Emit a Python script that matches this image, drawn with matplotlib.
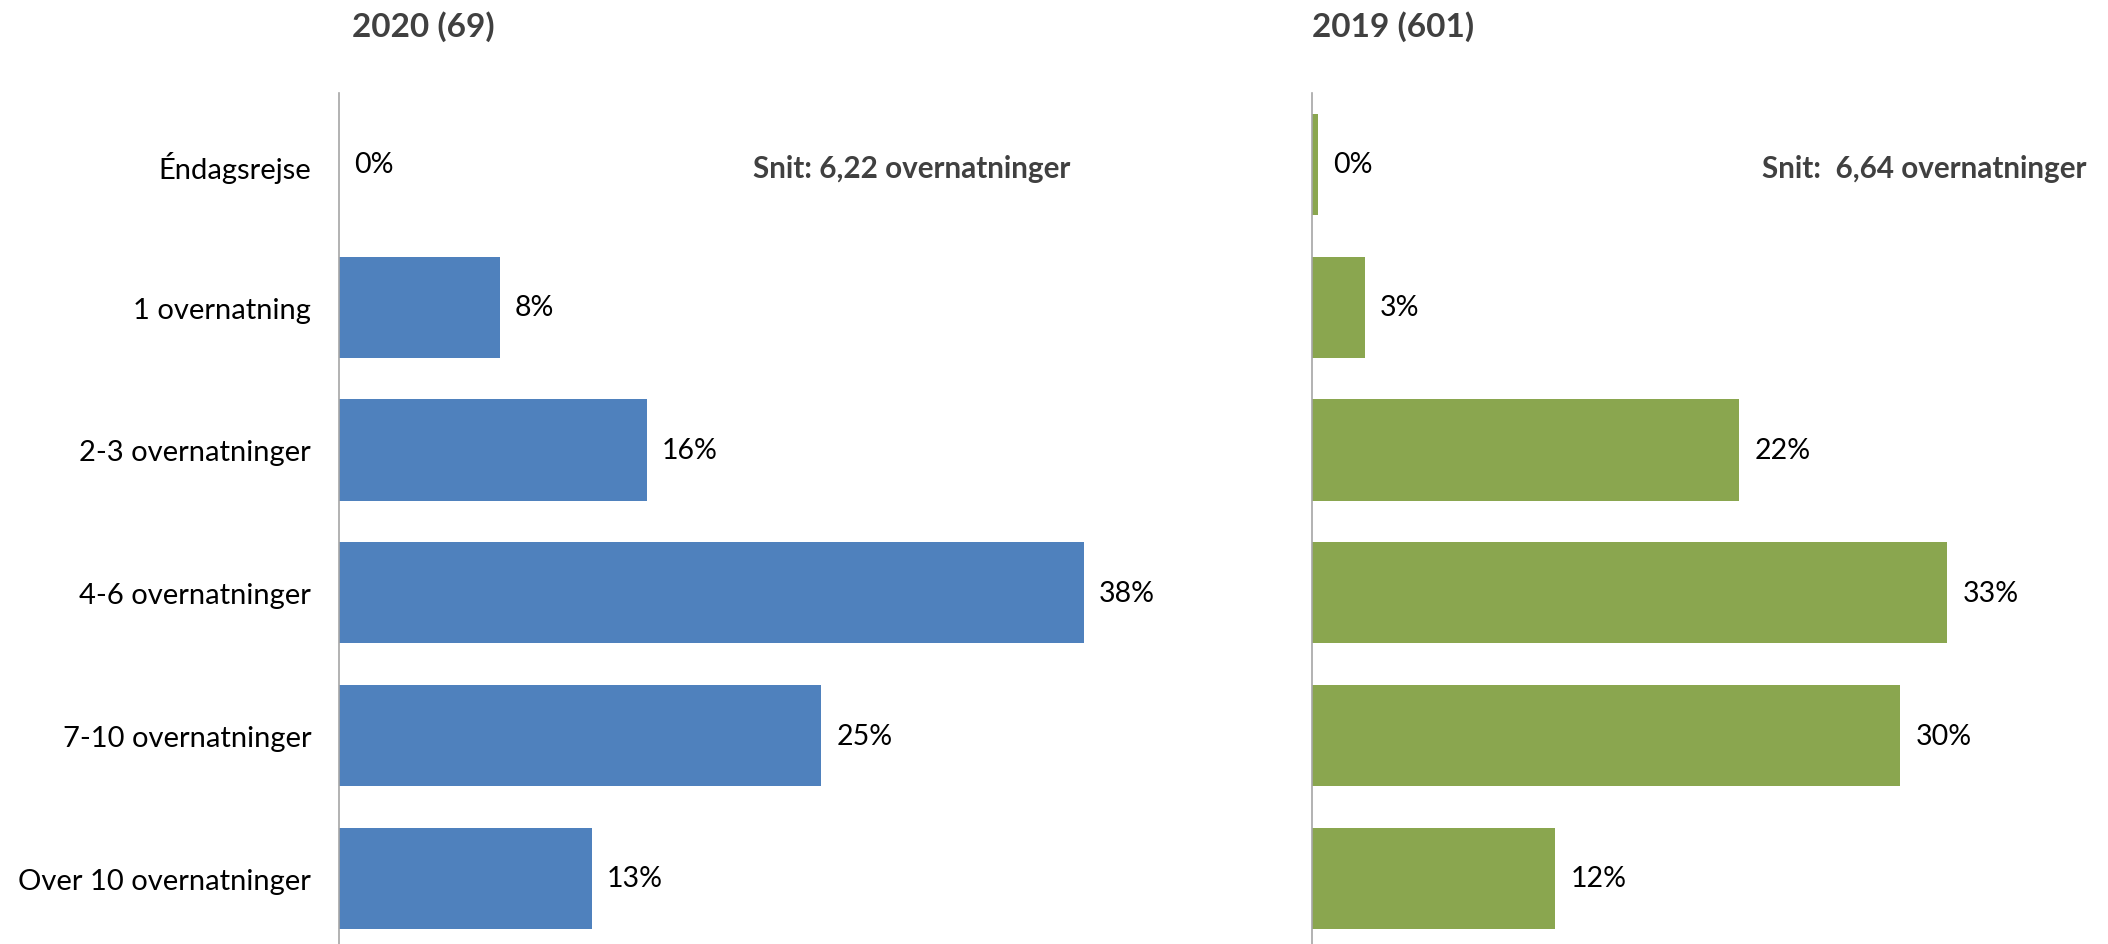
import matplotlib
matplotlib.use("Agg")
import matplotlib.pyplot as plt

categories = ["Éndagsrejse", "1 overnatning", "2-3 overnatninger", "4-6 overnatninger",
              "7-10 overnatninger", "Over 10 overnatninger"]
vals_2020 = [0.0, 8.2, 15.7, 38.0, 24.6, 12.9]
vals_2019 = [0.3, 2.7, 21.8, 32.4, 30.0, 12.4]
labels_2020 = ["0%", "8%", "16%", "38%", "25%", "13%"]
labels_2019 = ["0%", "3%", "22%", "33%", "30%", "12%"]
title_2020 = "2020 (69)"
title_2019 = "2019 (601)"
snit_2020 = "Snit: 6,22 overnatninger"
snit_2019 = "Snit:  6,64 overnatninger"

plt.rcParams['font.family'] = ['Lato', 'DejaVu Sans']

fig = plt.figure(figsize=(21.08, 9.45), dpi=100)
ax1 = fig.add_axes([0.1608, -0.006, 0.372, 0.9065])
ax2 = fig.add_axes([0.6224, -0.006, 0.372, 0.9065])

ypos = list(range(len(categories)))
for ax, vals, labs, col in [(ax1, vals_2020, labels_2020, "#4F81BD"),
                            (ax2, vals_2019, labels_2019, "#8AA64F")]:
    ax.barh(ypos, vals, height=0.71, color=col)
    for y, v, l in zip(ypos, vals, labs):
        ax.annotate(l, (v, y), xytext=(11, 0), textcoords="offset points",
                    va="center", ha="left", fontsize=20.5, color="black")
    ax.set_xlim(0, 40)
    ax.set_ylim(5.5, -0.5)
    for s in ["top", "right", "bottom"]:
        ax.spines[s].set_visible(False)
    ax.spines["left"].set_color("#A6A6A6")
    ax.spines["left"].set_linewidth(1.2)
    ax.set_xticks([])

ax1.set_yticks(ypos)
ax1.set_yticklabels(categories, fontsize=21)
ax1.tick_params(axis="y", length=0, pad=20)
ax2.set_yticks([])

fig.text(0.167, 0.972, title_2020, fontsize=24, fontweight="bold", color="#404040", va="center")
fig.text(0.6224, 0.972, title_2019, fontsize=24, fontweight="bold", color="#404040", va="center")
fig.text(0.508, 0.821, snit_2020, fontsize=21.3, fontweight="bold", color="#404040", va="center", ha="right")
fig.text(0.990, 0.821, snit_2019, fontsize=21.3, fontweight="bold", color="#404040", va="center", ha="right")

fig.savefig("out.png", dpi=100)
